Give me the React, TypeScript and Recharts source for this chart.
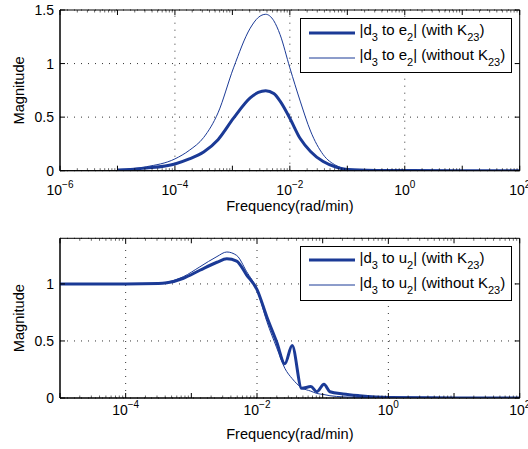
import React from 'react';
import { LineChart, Line, XAxis, YAxis, CartesianGrid, ReferenceLine, ReferenceArea, Legend, Label } from 'recharts';

// ---------- data ----------
const topExp = [-5, -4.5, -4, -3.75, -3.5, -3.25, -2.98, -2.69, -2.55, -2.42, -2.28, -2.17, -2, -1.82, -1.64, -1.42, -1.2, -1, -0.5, 0, 1, 2];
const topWithK = [0.007, 0.024, 0.063, 0.11, 0.175, 0.29, 0.49, 0.68, 0.73, 0.746, 0.72, 0.65, 0.49, 0.3, 0.18, 0.085, 0.035, 0.012, 0.003, 0.001, 0, 0];
const topWithoutK = [0.01, 0.037, 0.11, 0.19, 0.31, 0.54, 0.96, 1.33, 1.43, 1.46, 1.4, 1.27, 0.96, 0.65, 0.37, 0.15, 0.05, 0.015, 0.003, 0.001, 0, 0];

const botExp = [-5, -4, -3.5, -3.37, -3.12, -2.87, -2.61, -2.46, -2.31, -2.16, -2, -1.85, -1.7, -1.576, -1.465, -1.32, -1.18, -1.09, -0.98, -0.89, -0.69, -0.44, 0, 1, 2];
const botWithK = [1, 1, 1.003, 1.01, 1.05, 1.12, 1.19, 1.22, 1.2, 1.08, 0.95, 0.71, 0.49, 0.3, 0.46, 0.085, 0.1, 0.055, 0.12, 0.055, 0.035, 0.02, 0.005, 0.001, 0];
const botWithoutK = [1, 1, 1.005, 1.015, 1.064, 1.15, 1.24, 1.28, 1.25, 1.11, 0.95, 0.67, 0.44, 0.26, 0.17, 0.09, 0.06, 0.04, 0.03, 0.02, 0.01, 0.005, 0.002, 0, 0];

const topMajorExp = [-6, -4, -2, 0, 2];
const botMajorExp = [-4, -2, 0, 2];
const topYTicks = [0, 0.5, 1, 1.5];
const botYTicks = [0, 0.5, 1];

const FONT = '"Liberation Sans", Arial, Helvetica, sans-serif';
const BLUE = '#1b3a96';

const topData = topExp.map((e, i) => ({ f: Math.pow(10, e), withK: topWithK[i], withoutK: topWithoutK[i] }));
const botData = botExp.map((e, i) => ({ f: Math.pow(10, e), withK: botWithK[i], withoutK: botWithoutK[i] }));

function buildTicks(fromExp: number, toExp: number) {
  const t: number[] = [];
  for (let k = fromExp; k < toExp; k++) {
    for (let m = 1; m <= 9; m++) t.push(m * Math.pow(10, k));
  }
  t.push(Math.pow(10, toExp));
  return t;
}

function makeXTick(plotH: number, labelDy: number, majors: number[]) {
  return (props: any) => {
    const { x, y, payload } = props;
    const v = payload.value as number;
    const lg = Math.log10(v);
    const e = Math.round(lg);
    const isPow = Math.abs(lg - e) < 1e-6;
    const isMajor = isPow && majors.includes(e);
    const len = isPow ? 5 : 2.5;
    return (
      <g>
        <line x1={x} y1={y} x2={x} y2={y - len} stroke="#000" strokeWidth={isPow ? 1 : 0.6} />
        <line x1={x} y1={y - plotH} x2={x} y2={y - plotH + len} stroke="#000" strokeWidth={isPow ? 1 : 0.6} />
        {isMajor && (
          <text x={x} y={y + labelDy} textAnchor="middle" fontFamily={FONT} fontSize={14} fill="#000">
            <tspan>10</tspan>
            <tspan dy={-7} fontSize={10}>{e < 0 ? '\u2212' + -e : String(e)}</tspan>
          </text>
        )}
      </g>
    );
  };
}

function makeYTick(plotW: number) {
  return (props: any) => {
    const { x, y, payload } = props;
    return (
      <g>
        <line x1={x} y1={y} x2={x + 5} y2={y} stroke="#000" />
        <line x1={x + plotW} y1={y} x2={x + plotW - 5} y2={y} stroke="#000" />
        <text x={x - 6} y={y} dy="0.36em" textAnchor="end" fontFamily={FONT} fontSize={14} fill="#000">
          {String(payload.value)}
        </text>
      </g>
    );
  };
}

const Sub = ({ children }: { children: React.ReactNode }) => (
  <span style={{ fontSize: 11, position: 'relative', top: 6 }}>{children}</span>
);

const LegendContent = ({ v }: { v: string }) => {
  const rows = [
    { w: 3, t: 'with' },
    { w: 1, t: 'without' },
  ];
  return (
    <div
      style={{
        boxSizing: 'border-box',
        width: 212,
        height: 55,
        border: '1px solid #000',
        background: '#fff',
        fontFamily: FONT,
        fontSize: 15,
        color: '#000',
        paddingTop: 1,
      }}
    >
      {rows.map((r) => (
        <div key={r.t} style={{ display: 'flex', alignItems: 'center', height: 25, whiteSpace: 'nowrap' }}>
          <svg width={46} height={10} style={{ marginLeft: 8, flex: 'none' }}>
            <line x1={0} y1={5} x2={46} y2={5} stroke={BLUE} strokeWidth={r.w} />
          </svg>
          <span style={{ marginLeft: 5, lineHeight: '25px', position: 'relative', top: -2 }}>
            |d<Sub>3</Sub> to {v}<Sub>2</Sub>| ({r.t} K<Sub>23</Sub>)
          </span>
        </div>
      ))}
    </div>
  );
};

const XLabel = (labelDy: number) => (props: any) => {
  const vb = props.viewBox;
  return (
    <text x={vb.x + vb.width / 2} y={vb.y + labelDy} textAnchor="middle" fontFamily={FONT} fontSize={14.6} fill="#000">
      Frequency(rad/min)
    </text>
  );
};

const YLabel = (props: any) => {
  const vb = props.viewBox;
  const cx = 19;
  const cy = vb.y + vb.height / 2;
  return (
    <text
      x={cx}
      y={cy}
      textAnchor="middle"
      dominantBaseline="central"
      transform={`rotate(-90, ${cx}, ${cy})`}
      fontFamily={FONT}
      fontSize={14.6}
      fill="#000"
    >
      Magnitude
    </text>
  );
};

type PanelProps = {
  data: any[];
  height: number;
  marginTop: number;
  xAxisHeight: number;
  fromExp: number;
  majors: number[];
  yTicks: number[];
  yMax: number;
  tickDy: number;
  labelDy: number;
  v: string;
  legendTop: number;
};

const PLOT_W = 459.7;

function Panel(p: PanelProps) {
  const plotH = p.height - p.marginTop - p.xAxisHeight;
  const xMin = Math.pow(10, p.fromExp);
  const xMax = 100;
  const gridExp = p.majors.filter((e) => e > p.fromExp && e < 2);
  return (
    <LineChart width={528} height={p.height} data={p.data} margin={{ top: p.marginTop, right: 8.3, bottom: 0, left: 0 }}>
      <CartesianGrid vertical={false} stroke="#333" strokeDasharray="1 6" />
      {gridExp.map((e) => (
        <ReferenceLine key={e} x={Math.pow(10, e)} stroke="#333" strokeDasharray="1 6" />
      ))}
      <XAxis
        dataKey="f"
        type="number"
        scale="log"
        domain={[xMin, xMax]}
        allowDataOverflow
        ticks={buildTicks(p.fromExp, 2)}
        interval={0}
        tickLine={false}
        tickSize={0}
        tickMargin={0}
        tick={makeXTick(plotH, p.tickDy, p.majors)}
        axisLine={{ stroke: '#000' }}
        height={p.xAxisHeight}
      >
        <Label content={XLabel(p.labelDy)} />
      </XAxis>
      <YAxis
        type="number"
        domain={[0, p.yMax]}
        allowDataOverflow
        ticks={p.yTicks}
        interval={0}
        tickLine={false}
        tickSize={0}
        tickMargin={0}
        tick={makeYTick(PLOT_W)}
        axisLine={{ stroke: '#000' }}
        width={60}
      >
        <Label content={YLabel} />
      </YAxis>
      <ReferenceArea x1={xMin} x2={xMax} y1={0} y2={p.yMax} fill="none" stroke="#000" strokeWidth={1} />
      <Line type="monotone" dataKey="withK" stroke={BLUE} strokeWidth={3} dot={false} isAnimationActive={false} />
      <Line type="monotone" dataKey="withoutK" stroke={BLUE} strokeWidth={1} dot={false} isAnimationActive={false} />
      <Legend
        layout="vertical"
        align="center"
        verticalAlign="middle"
        wrapperStyle={{ left: 299.5, top: p.legendTop, width: 212, height: 55 }}
        content={() => <LegendContent v={p.v} />}
      />
    </LineChart>
  );
}

export default function App() {
  return (
    <div style={{ position: 'absolute', left: 0, top: 0, width: 528, height: 449, background: '#fff' }}>
      <div style={{ position: 'absolute', left: 0, top: 0 }}>
        <Panel
          data={topData}
          height={225}
          marginTop={10}
          xAxisHeight={54.3}
          fromExp={-6}
          majors={topMajorExp}
          yTicks={topYTicks}
          yMax={1.5}
          tickDy={24}
          labelDy={40}
          v="e"
          legendTop={18.3}
        />
      </div>
      <div style={{ position: 'absolute', left: 0, top: 225 }}>
        <Panel
          data={botData}
          height={224}
          marginTop={13.3}
          xAxisHeight={51}
          fromExp={-5}
          majors={botMajorExp}
          yTicks={botYTicks}
          yMax={1.4}
          tickDy={17}
          labelDy={41}
          v="u"
          legendTop={20.7}
        />
      </div>
    </div>
  );
}
